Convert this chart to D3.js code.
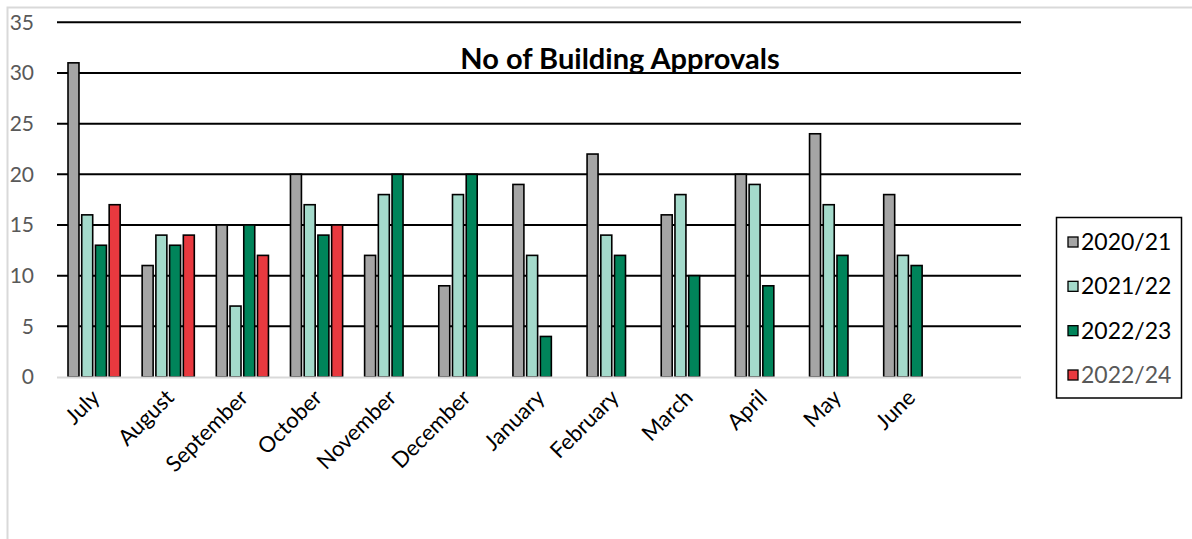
<!DOCTYPE html>
<html>
<head>
<meta charset="utf-8">
<script src="https://cdn.jsdelivr.net/npm/d3@7"></script>
<style>
  html, body { margin: 0; padding: 0; background: #fff; }
  svg { display: block; font-family: Lato, "Open Sans", sans-serif; }
</style>
</head>
<body>
<svg id="chart" width="1192" height="539"></svg>
<script>
// Monthly building approvals, by financial year
const months = ["July", "August", "September", "October", "November", "December",
                "January", "February", "March", "April", "May", "June", ""];
const seriesNames = ["2020/21", "2021/22", "2022/23", "2022/24"];
const fy2020 = [31, 11, 15, 20, 12, 9, 19, 22, 16, 20, 24, 18];
const fy2021 = [16, 14, 7, 17, 18, 18, 12, 14, 18, 19, 17, 12];
const fy2022 = [13, 13, 15, 14, 20, 20, 4, 12, 10, 9, 12, 11];
const fy2023 = [17, 14, 12, 15, null, null, null, null, null, null, null, null];
const yTicks = [0, 5, 10, 15, 20, 25, 30, 35];
const colors = ["#a5a5a5", "#a4dacb", "#00845a", "#e8393f"];

const seriesValues = [fy2020, fy2021, fy2022, fy2023];

const svg = d3.select("#chart");

// outer chart frame
svg.append("rect")
  .attr("x", 7.5).attr("y", 7.5)
  .attr("width", 1300).attr("height", 700)
  .attr("fill", "none").attr("stroke", "#d9d9d9").attr("stroke-width", 2);

const plot = { left: 57, right: 1021, top: 22.3, bottom: 377 };

const x0 = d3.scaleBand().domain(months).range([plot.left, plot.right]).padding(0);
const x1 = d3.scaleBand().domain(seriesNames).range([11, x0.bandwidth() - 11]).paddingInner(0.2);
const y = d3.scaleLinear().domain([0, 35]).range([plot.bottom, plot.top]);

// horizontal gridlines
svg.append("g").selectAll("line")
  .data(yTicks.filter(t => t > 0))
  .join("line")
  .attr("x1", plot.left).attr("x2", plot.right)
  .attr("y1", d => y(d)).attr("y2", d => y(d))
  .attr("stroke", "#000").attr("stroke-width", 2);

// y axis labels
const yAxis = d3.axisLeft(y).tickValues(yTicks).tickSize(0).tickPadding(0);
const yg = svg.append("g").attr("transform", "translate(34,0)").call(yAxis);
yg.select(".domain").remove();
yg.selectAll("text")
  .attr("fill", "#595959")
  .style("font-size", "21px")
  .style("font-family", "Lato, sans-serif");

// bars
const groups = svg.append("g").selectAll("g")
  .data(months.slice(0, 12))
  .join("g")
  .attr("transform", d => `translate(${x0(d)},0)`);

groups.selectAll("rect")
  .data((m, i) => seriesNames.map((s, k) => ({ s, k, v: seriesValues[k][i] })).filter(d => d.v != null))
  .join("rect")
  .attr("x", d => x1(d.s))
  .attr("width", x1.bandwidth())
  .attr("y", d => y(d.v))
  .attr("height", d => y(0) - y(d.v))
  .attr("fill", d => colors[d.k])
  .attr("stroke", "#000")
  .attr("stroke-width", 1.6);

// baseline
svg.append("line")
  .attr("x1", plot.left).attr("x2", plot.right)
  .attr("y1", y(0) + 0.5).attr("y2", y(0) + 0.5)
  .attr("stroke", "#d9d9d9").attr("stroke-width", 2);

// x axis category labels, rotated
const xAxis = d3.axisBottom(x0).tickSize(0).tickPadding(0);
const xg = svg.append("g").attr("transform", `translate(0,${y(0)})`).call(xAxis);
xg.select(".domain").remove();
xg.selectAll("text")
  .attr("fill", "#000")
  .style("font-size", "22px")
  .style("font-family", "Lato, sans-serif")
  .attr("text-anchor", "end")
  .attr("dy", null)
  .attr("y", 0)
  .attr("transform", "translate(7,22) rotate(-45)");

// title
svg.append("text")
  .attr("x", 620).attr("y", 69)
  .attr("text-anchor", "middle")
  .style("font-family", "Lato, sans-serif")
  .style("font-weight", "bold")
  .style("font-size", "29px")
  .attr("fill", "#000")
  .text("No of Building Approvals");

// legend
const legend = svg.append("g");
legend.append("rect")
  .attr("x", 1056.5).attr("y", 217.5)
  .attr("width", 125).attr("height", 180.5)
  .attr("fill", "#fff").attr("stroke", "#000").attr("stroke-width", 1.5);

const legendY = d3.scalePoint().domain(seriesNames).range([242, 375]);
const items = legend.selectAll("g.item")
  .data(seriesNames)
  .join("g")
  .attr("class", "item")
  .attr("transform", d => `translate(0,${legendY(d)})`);
items.append("rect")
  .attr("x", 1068).attr("y", -5)
  .attr("width", 10).attr("height", 10)
  .attr("fill", (d, i) => colors[i])
  .attr("stroke", "#000").attr("stroke-width", 1.3);
items.append("text")
  .attr("x", 1081).attr("y", 0).attr("dy", "0.35em")
  .style("font-family", "Lato, sans-serif")
  .style("font-size", "23px")
  .attr("fill", (d, i) => i === 3 ? "#595959" : "#000")
  .text(d => d);
</script>
</body>
</html>
